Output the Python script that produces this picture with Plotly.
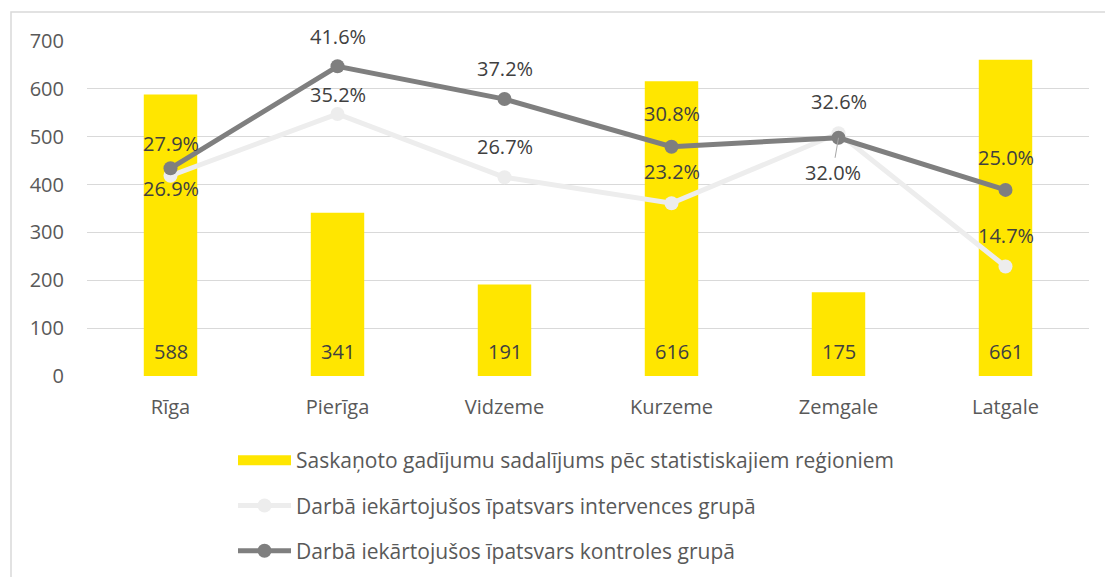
import plotly.graph_objects as go

categories = ["Rīga", "Pierīga", "Vidzeme", "Kurzeme", "Zemgale", "Latgale"]
bar_values = [588, 341, 191, 616, 175, 661]
intervention_pct = [26.9, 35.2, 26.7, 23.2, 32.6, 14.7]
control_pct = [27.9, 41.6, 37.2, 30.8, 32.0, 25.0]

bar_name = "Saskaņoto gadījumu sadalījums pēc statistiskajiem reģioniem"
int_name = "Darbā iekārtojušos īpatsvars intervences grupā"
ctl_name = "Darbā iekārtojušos īpatsvars kontroles grupā"

# label vertical offsets in pixels (style only)
int_shift = [-13, 19, 31, 32, 32, 31]
ctl_shift = [25, 30, 31, 33, -35, 32]

FONT = "Open Sans"
W, H = 1105, 577
L, R, T, B = 87, 16, 41, 201
YELLOW = "#FFE600"

fig = go.Figure()
fig.add_trace(go.Bar(
    x=categories, y=bar_values, name=bar_name, width=0.32,
    marker=dict(color=YELLOW, line=dict(width=0)),
    showlegend=False, hoverinfo="skip",
))
# legend-only entry drawn as a wide yellow swatch
fig.add_trace(go.Scatter(
    x=[None], y=[None], name=bar_name, mode="lines",
    line=dict(color=YELLOW, width=15), legendgroup="a",
))
fig.add_trace(go.Scatter(
    x=categories, y=intervention_pct, name=int_name, yaxis="y2",
    mode="lines+markers", line=dict(color="#EDEDED", width=5),
    marker=dict(size=14, color="#EDEDED"), legendgroup="b",
))
fig.add_trace(go.Scatter(
    x=categories, y=control_pct, name=ctl_name, yaxis="y2",
    mode="lines+markers", line=dict(color="#7F7F7F", width=5),
    marker=dict(size=14, color="#7F7F7F"), legendgroup="c",
))

ann = []
lab_font = dict(family=FONT, size=20, color="#404040")
for c, v in zip(categories, bar_values):
    ann.append(dict(x=c, y=0, xref="x", yref="y", text=str(v), showarrow=False,
                    yshift=25, font=lab_font))
for c, v, s in zip(categories, intervention_pct, int_shift):
    ann.append(dict(x=c, y=v, xref="x", yref="y2", text=f"{v:.1f}%", showarrow=False,
                    yshift=s, font=lab_font))
for c, v, s in zip(categories, control_pct, ctl_shift):
    if s < -30:
        ann.append(dict(x=c, y=v, xref="x", yref="y2", text=f"{v:.1f}%", showarrow=True,
                        arrowhead=0, arrowwidth=1, arrowcolor="#A6A6A6",
                        ax=-6, ay=-s, axref="pixel", ayref="pixel", standoff=0,
                        font=lab_font))
    else:
        ann.append(dict(x=c, y=v, xref="x", yref="y2", text=f"{v:.1f}%", showarrow=False,
                        yshift=s, font=lab_font))

pw = W - L - R
ph = H - T - B
fig.update_layout(
    width=W, height=H,
    margin=dict(l=L, r=R, t=T, b=B, pad=0, autoexpand=False),
    paper_bgcolor="white", plot_bgcolor="white",
    font=dict(family=FONT, size=20, color="#595959"),
    showlegend=True,
    legend=dict(orientation="v", x=(233 - L) / pw, xanchor="left",
                y=-(440 - (H - B)) / ph, yanchor="top",
                font=dict(family=FONT, size=21, color="#595959"),
                tracegroupgap=15, itemwidth=53, bgcolor="rgba(0,0,0,0)"),
    xaxis=dict(showgrid=False, showline=False, ticks="", tickfont=dict(size=20, color="#595959"),
               ticklabelstandoff=17),
    yaxis=dict(range=[0, 700], dtick=100, showgrid=True, gridcolor="#D9D9D9", gridwidth=1,
               zeroline=False, showline=False, ticks="", tickfont=dict(size=20, color="#595959"),
               ticklabelstandoff=22),
    yaxis2=dict(range=[0, 45], overlaying="y", side="right", visible=False),
    annotations=ann,
    shapes=[dict(type="rect", xref="paper", yref="paper",
                 x0=(11 - L) / pw, x1=(W + 20 - L) / pw,
                 y0=-(H + 20 - (H - B)) / ph, y1=((H - B) - 12) / ph,
                 line=dict(color="#D9D9D9", width=1.5), fillcolor="rgba(0,0,0,0)",
                 layer="below")],
)

fig.write_html("out.html", config={"displayModeBar": False},
               post_script="document.body.style.margin='0';")
